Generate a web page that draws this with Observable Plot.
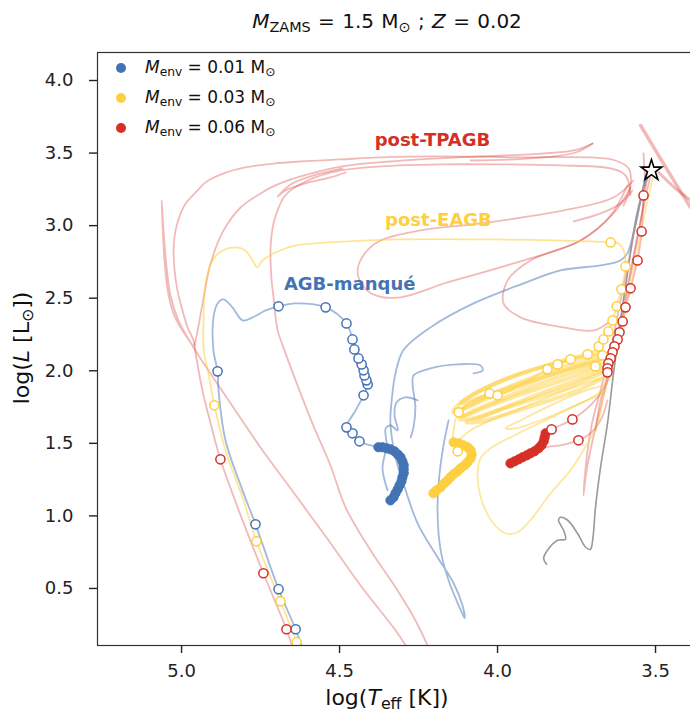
<!DOCTYPE html>
<html>
<head>
<meta charset="utf-8">
<script src="https://cdn.jsdelivr.net/npm/d3@7"></script>
<script src="https://cdn.jsdelivr.net/npm/@observablehq/plot@0.6"></script>
<style>
  html, body { margin: 0; padding: 0; background: #fff; overflow: hidden; }
  #wrap { position: relative; width: 690px; height: 717px; font-family: "DejaVu Sans", sans-serif; color: #111; }
  #wrap svg { max-width: none; position: absolute; left: 0; top: 0; }
  .lbl { position: absolute; white-space: nowrap; line-height: 1; }
  .lbl sub { font-size: 0.72em; vertical-align: -0.28em; line-height: 0; }
  .title { left: 387px; top: 11px; transform: translateX(-50%); font-size: 20px; word-spacing: 1px; }
  .xlab { left: 387px; top: 687px; transform: translateX(-50%); font-size: 22px; }
  .ylab { left: 22px; top: 348px; transform: translate(-50%, -50%) rotate(-90deg); font-size: 22px; }
  .leg { left: 116px; font-size: 17px; display: flex; align-items: center; }
  .leg .dot { width: 10px; height: 10px; border-radius: 50%; display: inline-block; margin-right: 19px; }
</style>
</head>
<body>
<div id="wrap"></div>
<script>
// Colours of the three stripped-envelope models
const BLUE = "#4473b5", YELLOW = "#fecf3e", RED = "#d62f26";

// Axis ticks
const xTicks = [3.5, 4.0, 4.5, 5.0];
const yTicks = [0.5, 1.0, 1.5, 2.0, 2.5, 3.0, 3.5, 4.0];

// Red-giant branch of the 1.5 Msun model, [logTeff, logL]
const rgb = [[3.845,0.667],[3.854,0.708],[3.842,0.763],[3.810,0.832],[3.785,0.839],[3.791,0.901],[3.807,0.970],[3.801,0.990],[3.778,0.970],[3.747,0.880],[3.721,0.784],[3.706,0.770],[3.699,0.832],[3.690,1.059],[3.674,1.335],[3.652,1.638],[3.633,1.982],[3.611,2.347],[3.585,2.726],[3.560,3.070],[3.535,3.277],[3.516,3.366]];
const rgbTip = [[3.513, 3.380]];

// M_env = 0.01: helium-flash loops before the horizontal branch
const bluePreA = [[3.532,3.346],[3.547,3.174],[3.570,2.946],[3.589,2.809],[3.611,2.760],[3.674,2.726],[3.801,2.692],[3.918,2.602],[4.076,2.464],[4.212,2.299],[4.298,2.141],[4.323,1.982],[4.335,1.796],[4.339,1.638],[4.323,1.404],[4.298,1.225],[4.253,0.949],[4.190,0.715],[4.139,0.536],[4.111,0.384],[4.104,0.295],[4.123,0.384],[4.155,0.557],[4.180,0.763],[4.190,1.039],[4.184,1.280],[4.171,1.486],[4.155,1.658]];
const bluePreB = [[4.076,1.982],[4.047,2.003],[4.054,2.037],[4.127,2.044],[4.212,2.017],[4.266,1.968],[4.269,1.913],[4.260,1.748],[4.266,1.610],[4.275,1.541]];
const bluePreC = [[4.253,1.796],[4.291,1.817],[4.320,1.782],[4.326,1.693],[4.316,1.590],[4.339,1.624],[4.354,1.603],[4.351,1.486],[4.364,1.328],[4.348,1.176]];
// horizontal-branch samples
const blueHB = [[4.377,1.473],[4.364,1.473],[4.351,1.466],[4.339,1.459],[4.326,1.445],[4.316,1.424],[4.307,1.404],[4.301,1.376],[4.297,1.349],[4.297,1.321],[4.297,1.294],[4.301,1.266],[4.304,1.238],[4.310,1.211],[4.316,1.183],[4.323,1.156],[4.329,1.128],[4.339,1.107]];
// AGB-manque evolution to the white dwarf
const bluePost = [[4.377,1.473],[4.437,1.514],[4.459,1.569],[4.478,1.610],[4.449,1.727],[4.424,1.831],[4.411,1.906],[4.415,1.934],[4.421,1.968],[4.424,2.003],[4.430,2.044],[4.440,2.085],[4.453,2.147],[4.459,2.216],[4.478,2.326],[4.544,2.437],[4.639,2.464],[4.693,2.444],[4.734,2.416],[4.775,2.368],[4.807,2.347],[4.839,2.437],[4.867,2.492],[4.886,2.464],[4.899,2.368],[4.899,2.141],[4.886,1.996],[4.883,1.865],[4.861,1.521],[4.807,1.176],[4.766,0.942],[4.693,0.495],[4.639,0.219],[4.620,0.109]];
const blueMarks = [[4.437,1.514],[4.459,1.569],[4.478,1.610],[4.424,1.831],[4.411,1.906],[4.415,1.934],[4.421,1.968],[4.424,2.003],[4.430,2.044],[4.440,2.085],[4.453,2.147],[4.459,2.216],[4.478,2.326],[4.544,2.437],[4.693,2.444],[4.886,1.996],[4.766,0.942],[4.693,0.495],[4.639,0.219]];

// M_env = 0.03: pre-HB loops
const yelPreA = [[3.509,3.325],[3.532,3.105],[3.563,2.760],[3.595,2.416],[3.627,2.141],[3.652,1.934],[3.665,1.831],[3.683,1.638],[3.728,1.452],[3.769,1.314],[3.832,1.156],[3.896,0.970],[3.937,0.887],[3.975,0.880],[4.016,0.956],[4.047,1.087],[4.063,1.259],[4.054,1.397],[4.022,1.466],[3.927,1.576],[3.816,1.693],[3.706,1.810],[3.665,1.865]];
const yelPreB = [[3.665,1.899],[3.737,1.851],[3.832,1.762],[3.927,1.658],[3.975,1.603],[3.943,1.603],[3.848,1.672],[3.753,1.762],[3.665,1.844]];
const yelPreC = [[3.674,1.948],[3.801,1.851],[3.927,1.741],[4.022,1.658],[4.085,1.590],[4.123,1.521]];
// dense band of blue loops on the early AGB
const yelLoop1 = [[3.674,2.127],[3.769,2.085],[3.873,2.017],[3.981,1.934],[4.070,1.844],[4.133,1.748],[4.139,1.714],[4.111,1.734],[4.022,1.817],[3.927,1.893],[3.816,1.982],[3.680,2.072]];
const yelLoop2 = [[3.674,2.085],[3.785,2.030],[3.896,1.948],[3.990,1.865],[4.079,1.776],[4.130,1.707],[4.114,1.686],[4.038,1.748],[3.943,1.824],[3.832,1.906],[3.674,2.023]];
const yelLoop3 = [[3.671,2.044],[3.801,1.961],[3.911,1.872],[4.006,1.789],[4.092,1.707],[4.120,1.665],[4.079,1.672],[3.990,1.734],[3.880,1.810],[3.769,1.893],[3.671,1.982]];
const yelLoop4 = [[3.668,2.003],[3.785,1.906],[3.896,1.817],[3.990,1.734],[4.060,1.672],[4.098,1.645],[4.047,1.652],[3.953,1.714],[3.845,1.789],[3.737,1.872],[3.668,1.948]];
const yelLoop5 = [[3.680,2.106],[3.801,2.058],[3.927,1.982],[4.022,1.899],[4.092,1.817],[4.117,1.776],[4.060,1.810],[3.959,1.886],[3.848,1.961],[3.737,2.030],[3.674,2.058]];
const yelHB = [[4.203,1.156],[4.193,1.176],[4.180,1.197],[4.168,1.225],[4.158,1.245],[4.149,1.266],[4.139,1.287],[4.127,1.307],[4.117,1.328],[4.104,1.349],[4.095,1.369],[4.085,1.397],[4.082,1.424],[4.085,1.452],[4.095,1.473],[4.108,1.486],[4.123,1.500],[4.139,1.507]];
// early AGB, post-EAGB crossing and cooling
const yelPost = [[4.142,1.500],[4.123,1.714],[4.025,1.844],[4.000,1.831],[3.842,2.010],[3.810,2.044],[3.769,2.079],[3.715,2.113],[3.680,2.168],[3.665,2.216],[3.649,2.271],[3.636,2.347],[3.623,2.444],[3.608,2.561],[3.595,2.719],[3.601,2.829],[3.617,2.877],[3.642,2.884],[3.706,2.891],[4.022,2.905],[4.323,2.905],[4.535,2.884],[4.639,2.864],[4.703,2.815],[4.744,2.760],[4.760,2.712],[4.775,2.760],[4.798,2.829],[4.829,2.850],[4.870,2.829],[4.902,2.760],[4.924,2.602],[4.930,2.368],[4.930,2.141],[4.915,1.982],[4.896,1.762],[4.861,1.452],[4.807,1.128],[4.763,0.825],[4.687,0.412],[4.636,0.130],[4.630,0.088]];
const yelMarks = [[4.126,1.445],[4.123,1.714],[4.025,1.844],[4.000,1.831],[3.842,2.010],[3.810,2.044],[3.769,2.079],[3.715,2.113],[3.690,2.030],[3.668,2.106],[3.680,2.168],[3.665,2.216],[3.649,2.271],[3.636,2.347],[3.623,2.444],[3.608,2.561],[3.595,2.719],[3.642,2.884],[4.896,1.762],[4.763,0.825],[4.687,0.412],[4.636,0.130]];

// M_env = 0.06: thermally pulsing AGB and post-TPAGB loops
const redHB = [[3.959,1.362],[3.946,1.376],[3.933,1.390],[3.921,1.404],[3.908,1.417],[3.896,1.431],[3.883,1.445],[3.870,1.466],[3.861,1.486],[3.854,1.514],[3.851,1.541],[3.848,1.569]];
const redAGB = [[3.848,1.569],[3.829,1.596],[3.763,1.665],[3.706,1.762],[3.665,1.879],[3.652,1.989],[3.652,2.017],[3.649,2.051],[3.642,2.085],[3.636,2.127],[3.630,2.168],[3.620,2.216],[3.614,2.265],[3.604,2.340],[3.595,2.437],[3.579,2.568],[3.557,2.760],[3.544,2.960],[3.538,3.208],[3.532,3.311]];
const redHB2 = [[3.911,1.417],[3.848,1.473],[3.801,1.486],[3.744,1.521],[3.706,1.569],[3.674,1.658],[3.652,1.796]];
const redSpike = [[3.528,3.366],[3.554,3.105],[3.585,2.760],[3.617,2.416],[3.642,2.141],[3.674,1.865],[3.699,1.658],[3.715,1.452],[3.725,1.245],[3.728,1.142],[3.718,1.314],[3.699,1.521],[3.668,1.796],[3.636,2.072],[3.604,2.382],[3.573,2.726],[3.544,3.070],[3.528,3.311]];
const redAGB2 = [[3.516,3.346],[3.547,3.036],[3.579,2.692],[3.611,2.347],[3.636,2.072],[3.652,1.934],[3.674,1.796],[3.690,1.590]];
const redTip = [[3.538,3.497],[3.535,3.380],[3.532,3.277]];
const redV1 = [[3.547,3.690],[3.500,3.518],[3.452,3.346],[3.389,3.125]];
const redV2 = [[3.490,3.366],[3.437,3.256],[3.389,3.174]];
const redOuter = [[3.601,3.139],[3.579,3.277],[3.585,3.394],[3.627,3.449],[3.706,3.470],[3.927,3.470],[4.180,3.477],[4.370,3.470],[4.497,3.456],[4.623,3.442],[4.709,3.428],[4.798,3.401],[4.867,3.360],[4.924,3.298],[4.949,3.243],[4.987,3.153],[5.003,3.084],[5.019,2.967],[5.025,2.850],[5.022,2.692],[5.013,2.554],[4.997,2.416],[4.981,2.299],[4.962,2.209],[4.956,2.127],[4.934,1.865],[4.908,1.638],[4.877,1.390],[4.813,1.004],[4.741,0.605],[4.668,0.219],[4.649,0.095]];
const redHookLoop = [[3.699,3.566],[3.759,3.518],[3.918,3.490],[4.127,3.470],[4.339,3.442],[4.491,3.408],[4.623,3.339],[4.703,3.277],[4.750,3.222],[4.813,3.125],[4.867,2.967],[4.908,2.740],[4.930,2.506],[4.949,2.278],[4.959,2.175]];
const redHook = [[4.085,3.449],[3.896,3.463],[3.753,3.504],[3.699,3.566]];
const redFold = [[4.491,3.394],[4.592,3.339],[4.655,3.284],[4.696,3.201],[4.671,3.243],[4.608,3.291],[4.529,3.332],[4.481,3.366]];
const redInner = [[3.579,3.208],[3.595,3.346],[3.642,3.394],[3.801,3.415],[3.990,3.422],[4.180,3.422],[4.370,3.408],[4.497,3.380],[4.601,3.311],[4.655,3.243],[4.677,3.194],[4.696,3.105],[4.709,3.015],[4.718,2.864],[4.718,2.740],[4.715,2.623],[4.709,2.506],[4.696,2.278],[4.680,2.175],[4.639,1.934],[4.586,1.638],[4.529,1.349],[4.481,1.059],[4.402,0.763],[4.323,0.508],[4.260,0.281],[4.222,0.109]];
const redDiag = [[4.959,2.154],[4.987,2.244],[5.019,2.361],[5.041,2.519],[5.054,2.760],[5.060,3.001],[5.063,3.174],[5.057,2.967],[5.048,2.726],[5.035,2.519],[5.010,2.347],[4.972,2.196],[4.940,2.085],[4.845,1.776],[4.744,1.452],[4.639,1.142],[4.535,0.832],[4.434,0.522],[4.323,0.212],[4.291,0.109]];
const redMid = [[3.570,3.311],[3.633,3.194],[3.791,3.105],[4.054,3.015],[4.244,2.967],[4.370,2.898],[4.418,2.815],[4.443,2.692],[4.427,2.588],[4.386,2.519],[4.307,2.506],[4.158,2.609],[3.949,2.740],[3.737,2.898],[3.633,3.084],[3.579,3.263]];
const redLow = [[3.589,3.277],[3.642,3.070],[3.737,2.898],[3.896,2.760],[3.968,2.623],[3.981,2.464],[3.927,2.368],[3.791,2.299],[3.696,2.278],[3.649,2.333]];
const redShort = [[3.759,3.029],[3.674,3.084],[3.611,3.153],[3.573,3.243]];
const redMarks = [[3.538,3.208],[3.544,2.960],[3.557,2.760],[3.579,2.568],[3.595,2.437],[3.604,2.340],[3.614,2.265],[3.620,2.216],[3.630,2.168],[3.636,2.127],[3.642,2.085],[3.649,2.051],[3.652,2.017],[3.652,1.989],[3.763,1.665],[3.829,1.596],[3.744,1.521],[4.877,1.390],[4.741,0.605],[4.668,0.219]];

// Track labels
const trackNames = ["post-TPAGB", "post-EAGB", "AGB-manqué"];
const trackColors = [RED, YELLOW, BLUE];
const trackT = [4.206, 4.187, 4.468];
const trackL = [3.587, 3.036, 2.595];

// Legend
const envMasses = ["0.01", "0.03", "0.06"];
const envColors = [BLUE, YELLOW, RED];

const X = d => d[0], Y = d => d[1];
const track = (pts, stroke, opacity, width = 1.8) =>
  Plot.line(pts, {x: X, y: Y, stroke, strokeOpacity: opacity, strokeWidth: width, curve: "catmull-rom", clip: true});
const samples = (pts, color) =>
  Plot.dot(pts, {x: X, y: Y, r: 4.6, fill: color, stroke: color, strokeWidth: 1, clip: true});
const rings = (pts, color) =>
  Plot.dot(pts, {x: X, y: Y, r: 4.6, fill: "white", stroke: color, strokeWidth: 1.5, clip: true});

const redLines = [redOuter, redHookLoop, redHook, redFold, redInner, redDiag, redMid, redLow, redShort,
                  redSpike, redAGB2, redAGB, redHB2, redTip];
const yelBand = [yelLoop1, yelLoop2, yelLoop3, yelLoop4, yelLoop5];
const yelLines = [yelPreA, yelPreB, yelPreC];
const blueLines = [bluePreA, bluePreB, bluePreC];

const chart = Plot.plot({
  width: 692,
  height: 717,
  marginTop: 52,
  marginBottom: 72,
  marginLeft: 97,
  marginRight: 0,
  x: {domain: [5.266, 3.383]},
  y: {domain: [0.107, 4.193]},
  style: {fontFamily: "DejaVu Sans, sans-serif", fontSize: "18px", color: "#222", background: "white"},
  marks: [
    ...redLines.map(p => track(p, RED, 0.33)),
    track(redV1, RED, 0.33, 3.5),
    track(redV2, RED, 0.33, 3),
    ...yelBand.map(p => track(p, YELLOW, 0.5, 4)),
    ...yelLines.map(p => track(p, YELLOW, 0.5)),
    ...blueLines.map(p => track(p, BLUE, 0.5)),
    track(rgb, "#999", 1, 1.6),
    track(bluePost, BLUE, 0.5),
    track(yelPost, YELLOW, 0.55),
    samples(blueHB, BLUE),
    samples(yelHB, YELLOW),
    samples(redHB, RED),
    rings(yelMarks, YELLOW),
    rings(blueMarks, BLUE),
    rings(redMarks, RED),
    Plot.dot(rgbTip, {x: X, y: Y, symbol: "star", r: 6.5, fill: "white", stroke: "black", strokeWidth: 1.6}),
    Plot.text(trackNames, {x: (d, i) => trackT[i], y: (d, i) => trackL[i], text: d => d,
      fill: (d, i) => trackColors[i], fontWeight: "bold", fontSize: 18}),
    Plot.frame({stroke: "#333", strokeWidth: 1.2}),
    Plot.axisX({ticks: xTicks, tickFormat: d3.format(".1f"), tickSize: 8, tickPadding: 11, label: null, fontSize: 18, strokeWidth: 1.4}),
    Plot.axisY({ticks: yTicks, tickFormat: d3.format(".1f"), tickSize: 8, tickPadding: 16, label: null, fontSize: 18, strokeWidth: 1.4})
  ]
});

const wrap = document.getElementById("wrap");
wrap.appendChild(chart);

const add = (cls, html, style) => {
  const el = document.createElement("div");
  el.className = "lbl " + cls;
  el.innerHTML = html;
  if (style) Object.assign(el.style, style);
  wrap.appendChild(el);
};
add("title", "<i>M</i><sub>ZAMS</sub> = 1.5 M<sub>⊙</sub> ; <i>Z</i> = 0.02");
add("xlab", "log(<i>T</i><sub>eff</sub> [K])");
add("ylab", "log(<i>L</i> [L<sub>⊙</sub>])");
envMasses.forEach((m, i) => {
  add("leg", `<span class="dot" style="background:${envColors[i]}"></span><span><i>M</i><sub>env</sub> = ${m} M<sub>⊙</sub></span>`,
      {top: (59 + 30 * i) + "px"});
});
</script>
</body>
</html>
